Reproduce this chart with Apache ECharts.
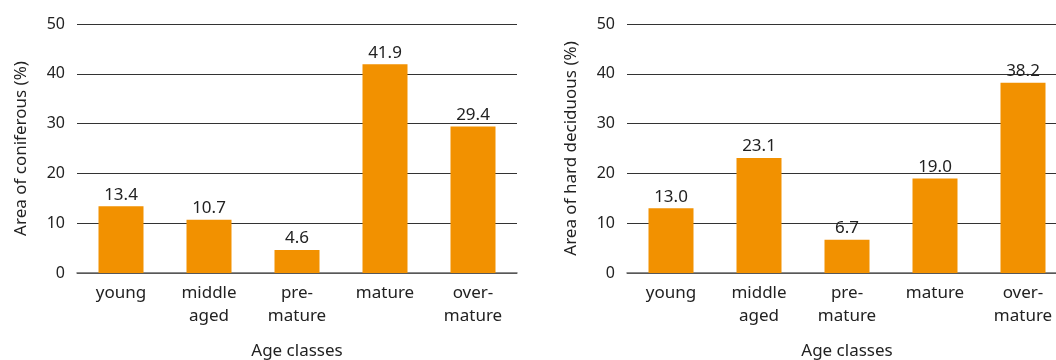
<!DOCTYPE html>
<html>
<head>
<meta charset="utf-8">
<style>
  html, body { margin: 0; padding: 0; background: #fff; }
  #chart { width: 1056px; height: 360px; }
</style>
<script src="https://cdn.jsdelivr.net/npm/echarts@6/dist/echarts.min.js"></script>
</head>
<body>
<div id="chart"></div>
<script>
// Age classes shared by both panels
const ageClasses = ['young', 'middle\naged', 'pre-\nmature', 'mature', 'over-\nmature'];
// Share of area (%) per age class
const coniferous = [13.4, 10.7, 4.6, 41.9, 29.4];
const hardDeciduous = [13.0, 23.1, 6.7, 19.0, 38.2];
const yTicks = { min: 0, max: 50, interval: 10 };

const FONT = '"Noto Sans", "Open Sans", sans-serif';
const TEXT = '#222';
const BAR = '#F29100';

function xAxis(gridIndex) {
  return {
    type: 'category',
    gridIndex,
    data: ageClasses,
    name: 'Age classes',
    nameLocation: 'middle',
    nameGap: 70,
    nameTextStyle: { fontFamily: FONT, fontSize: 17, color: TEXT },
    axisLine: { show: true, lineStyle: { color: '#666', width: 1.5 } },
    axisTick: { show: false },
    axisLabel: { fontFamily: FONT, fontSize: 17, color: TEXT, lineHeight: 23, margin: 9 }
  };
}

function yAxis(gridIndex, name) {
  return {
    type: 'value',
    gridIndex,
    min: yTicks.min,
    max: yTicks.max,
    interval: yTicks.interval,
    name,
    nameLocation: 'middle',
    nameGap: 47,
    nameRotate: 90,
    nameTextStyle: { fontFamily: FONT, fontSize: 17, color: TEXT },
    axisLine: { show: false },
    axisTick: { show: false },
    axisLabel: { fontFamily: FONT, fontSize: 16, color: TEXT, margin: 12 },
    splitLine: { show: true, lineStyle: { color: '#333', width: 1 } }
  };
}

function bars(index, values) {
  return {
    type: 'bar',
    xAxisIndex: index,
    yAxisIndex: index,
    data: values,
    barWidth: 45,
    itemStyle: { color: BAR },
    label: {
      show: true,
      position: 'top',
      distance: 3,
      fontFamily: FONT,
      fontSize: 17,
      color: TEXT,
      formatter: p => p.value.toFixed(1)
    },
    z: 3
  };
}

const chart = echarts.init(document.getElementById('chart'), null, { renderer: 'canvas' });
chart.setOption({
  animation: false,
  backgroundColor: '#fff',
  grid: [
    { left: 77, width: 440, top: 24, height: 249, outerBoundsMode: 'none' },
    { left: 627, width: 440, top: 24, height: 249, outerBoundsMode: 'none' }
  ],
  xAxis: [xAxis(0), xAxis(1)],
  yAxis: [
    yAxis(0, 'Area of coniferous (%)'),
    yAxis(1, 'Area of hard deciduous (%)')
  ],
  series: [bars(0, coniferous), bars(1, hardDeciduous)]
});
</script>
</body>
</html>
